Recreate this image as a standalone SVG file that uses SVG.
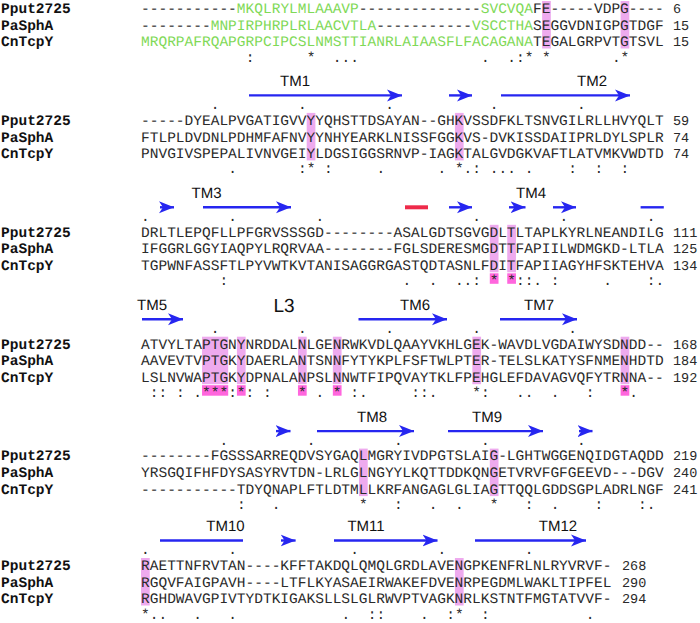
<svg xmlns="http://www.w3.org/2000/svg" width="700" height="623" viewBox="0 0 700 623" xml:space="preserve">
<style>
text{text-rendering:geometricPrecision}
.seq{font-family:"Liberation Mono","Courier New",monospace;font-size:14.53px;fill:#2a2a2a;white-space:pre}
.name{font-family:"Liberation Mono","Courier New",monospace;font-size:14.53px;font-weight:bold;fill:#111}
.num{font-family:"Liberation Mono","Courier New",monospace;font-size:13.5px;fill:#2a2a2a}
.g{fill:#7fd957}
.tm{font-family:"Liberation Sans",Arial,sans-serif;font-size:15px;fill:#111;text-anchor:middle}
.l3{font-family:"Liberation Sans",Arial,sans-serif;font-size:19px;fill:#111;text-anchor:middle}
.hl{fill:#eeaaee}
.sb{fill:#ff66dd}
.arr{stroke:#2626f0;stroke-width:2.4;fill:none}
.red{stroke:#ee2a4a;stroke-width:4;fill:none}
</style>
<defs>
<marker id="ah" markerWidth="16" markerHeight="14" refX="15" refY="7" orient="auto" markerUnits="userSpaceOnUse">
<path d="M0,1 L15,7 L0,13 L4,7 Z" fill="#2626f0"/>
</marker>
</defs>

<!-- Block 1 -->
<g id="block1">
<rect class="hl" x="542.12" y="1" width="8.72" height="47.5"/>
<rect class="hl" x="620.6" y="1" width="8.72" height="47.5"/>
<text class="name" x="1" y="12.8">Pput2725</text>
<text class="name" x="1" y="29.6">PaSphA</text>
<text class="name" x="1" y="46.4">CnTcpY</text>
<text class="seq" x="141" y="12.8">-----------<tspan class="g">MKQLRYLMLAAAVP</tspan>--------------<tspan class="g">SVCVQA</tspan>FE-----VDPG----</text>
<text class="seq" x="141" y="29.6">--------<tspan class="g">MNPIRPHRPLRLAACVTLA</tspan>-----------<tspan class="g">VSCCTHA</tspan>SEGGVDNIGPGTDGF</text>
<text class="seq" x="141" y="46.4"><tspan class="g">MRQRPAFRQAPGRPCIPCSLNMSTTIANRLAIAASFLFACAGANA</tspan>TEGALGRPVTGTSVL</text>
<text class="num" x="673" y="12.8">6</text>
<text class="num" x="673" y="29.6">15</text>
<text class="num" x="673" y="46.4">15</text>
<text class="seq" y="61.5"><tspan x="245.64">:</tspan><tspan x="306.68">*</tspan><tspan x="332.84">...</tspan><tspan x="481.08">.</tspan><tspan x="507.24">.:*</tspan><tspan x="542.12">*</tspan><tspan x="611.88">.*</tspan></text>
</g>

<!-- Block 2 -->
<g id="block2">
<rect class="hl" x="306.68" y="112.9" width="8.72" height="47.5"/>
<rect class="hl" x="454.92" y="112.9" width="8.72" height="47.5"/>
<text class="tm" x="295" y="86.3">TM1</text>
<text class="tm" x="592" y="86.3">TM2</text>
<text class="seq" y="108.9" x="210.76 297.96 385.16 489.8 577">.....</text>
<text class="name" x="1" y="124.7">Pput2725</text>
<text class="name" x="1" y="141.5">PaSphA</text>
<text class="name" x="1" y="158.3">CnTcpY</text>
<text class="seq" x="141" y="124.7">-----DYEALPVGATIGVVYYQHSTTDSAYAN--GHKVSSDFKLTSNVGILRLLHVYQLT</text>
<text class="seq" x="141" y="141.5">FTLPLDVDNLPDHMFAFNVYYNHYEARKLNISSFGGKVS-DVKISSDAIIPRLDYLSPLR</text>
<text class="seq" x="141" y="158.3">PNVGIVSPEPALIVNVGEIYLDGSIGGSRNVP-IAGKTALGVDGKVAFTLATVMKVWDTD</text>
<text class="num" x="673" y="124.7">59</text>
<text class="num" x="673" y="141.5">74</text>
<text class="num" x="673" y="158.3">74</text>
<text class="seq" y="173.4"><tspan x="228.2">.</tspan><tspan x="297.96">:*</tspan><tspan x="324.12">:</tspan><tspan x="376.44">.</tspan><tspan x="437.48">.</tspan><tspan x="454.92">*.:</tspan><tspan x="489.8">...</tspan><tspan x="524.68">.</tspan><tspan x="568.28">:</tspan><tspan x="594.44">:</tspan><tspan x="620.6">:</tspan></text>
</g>

<!-- Block 3 -->
<g id="block3">
<rect class="hl" x="489.8" y="224.8" width="8.72" height="47.5"/>
<rect class="hl" x="507.24" y="224.8" width="8.72" height="47.5"/>
<rect class="sb" x="489.8" y="273.3" width="8.72" height="10.5"/>
<rect class="sb" x="507.24" y="273.3" width="8.72" height="10.5"/>
<text class="tm" x="206.5" y="198.2">TM3</text>
<text class="tm" x="531" y="198.2">TM4</text>
<text class="seq" y="220.8" x="141 228.2 315.4 472.36 559.56 646.76">......</text>
<text class="name" x="1" y="236.6">Pput2725</text>
<text class="name" x="1" y="253.4">PaSphA</text>
<text class="name" x="1" y="270.2">CnTcpY</text>
<text class="seq" x="141" y="236.6">DRLTLEPQFLLPFGRVSSSGD--------ASALGDTSGVGDLTLTAPLKYRLNEANDILG</text>
<text class="seq" x="141" y="253.4">IFGGRLGGYIAQPYLRQRVAA--------FGLSDERESMGDTTFAPIILWDMGKD-LTLA</text>
<text class="seq" x="141" y="270.2">TGPWNFASSFTLPYVWTKVTANISAGGRGASTQDTASNLFDITFAPIIAGYHFSKTEHVA</text>
<text class="num" x="673" y="236.6">111</text>
<text class="num" x="673" y="253.4">125</text>
<text class="num" x="673" y="270.2">134</text>
<text class="seq" y="285.3"><tspan x="219.48">:</tspan><tspan x="402.6">.</tspan><tspan x="428.76">.</tspan><tspan x="454.92">..:</tspan><tspan x="489.8">*</tspan><tspan x="507.24">*::.</tspan><tspan x="550.84">:</tspan><tspan x="603.16">.</tspan><tspan x="646.76">:.</tspan></text>
</g>

<!-- Block 4 -->
<g id="block4">
<rect class="hl" x="202.04" y="336.7" width="26.16" height="47.5"/>
<rect class="hl" x="236.92" y="336.7" width="8.72" height="47.5"/>
<rect class="hl" x="297.96" y="336.7" width="8.72" height="47.5"/>
<rect class="hl" x="332.84" y="336.7" width="8.72" height="47.5"/>
<rect class="hl" x="472.36" y="336.7" width="8.72" height="47.5"/>
<rect class="hl" x="620.6" y="336.7" width="8.72" height="47.5"/>
<rect class="sb" x="202.04" y="385.2" width="26.16" height="10.5"/>
<rect class="sb" x="236.92" y="385.2" width="8.72" height="10.5"/>
<rect class="sb" x="297.96" y="385.2" width="8.72" height="10.5"/>
<rect class="sb" x="332.84" y="385.2" width="8.72" height="10.5"/>
<rect class="sb" x="620.6" y="385.2" width="8.72" height="10.5"/>
<text class="tm" x="152" y="310.1">TM5</text>
<text class="l3" x="284" y="312">L3</text>
<text class="tm" x="415" y="310.1">TM6</text>
<text class="tm" x="539" y="310.1">TM7</text>
<text class="seq" y="332.7" x="210.76 297.96 385.16 472.36 568.28">.....</text>
<text class="name" x="1" y="348.5">Pput2725</text>
<text class="name" x="1" y="365.3">PaSphA</text>
<text class="name" x="1" y="382.1">CnTcpY</text>
<text class="seq" x="141" y="348.5">ATVYLTAPTGNYNRDDALNLGENRWKVDLQAAYVKHLGEK-WAVDLVGDAIWYSDNDD--</text>
<text class="seq" x="141" y="365.3">AAVEVTVPTGKYDAERLANTSNNFYTYKPLFSFTWLPTER-TELSLKATYSFNMENHDTD</text>
<text class="seq" x="141" y="382.1">LSLNVWAPTGKYDPNALANPSLNNWTFIPQVAYTKLFPEHGLEFDAVAGVQFYTRNNA--</text>
<text class="num" x="673" y="348.5">168</text>
<text class="num" x="673" y="365.3">184</text>
<text class="num" x="673" y="382.1">192</text>
<text class="seq" y="397.2"><tspan x="149.72">::</tspan><tspan x="175.88">:</tspan><tspan x="193.32">.***:*:</tspan><tspan x="263.08">:</tspan><tspan x="297.96">*</tspan><tspan x="315.4">.</tspan><tspan x="332.84">*</tspan><tspan x="350.28">:.</tspan><tspan x="411.32">::.</tspan><tspan x="472.36">*:</tspan><tspan x="515.96">..</tspan><tspan x="550.84">.</tspan><tspan x="585.72">:</tspan><tspan x="620.6">*.</tspan></text>
</g>

<!-- Block 5 -->
<g id="block5">
<rect class="hl" x="359" y="448.6" width="8.72" height="47.5"/>
<rect class="hl" x="489.8" y="448.6" width="8.72" height="47.5"/>
<text class="tm" x="372" y="422">TM8</text>
<text class="tm" x="487" y="422">TM9</text>
<text class="seq" y="444.6" x="219.48 306.68 393.88 481.08 577">.....</text>
<text class="name" x="1" y="460.4">Pput2725</text>
<text class="name" x="1" y="477.2">PaSphA</text>
<text class="name" x="1" y="494">CnTcpY</text>
<text class="seq" x="141" y="460.4">--------FGSSSARREQDVSYGAQLMGRYIVDPGTSLAIG-LGHTWGGENQIDGTAQDD</text>
<text class="seq" x="141" y="477.2">YRSGQIFHFDYSASYRVTDN-LRLGLNGYYLKQTTDDKQNGETVRVFGFGEEVD---DGV</text>
<text class="seq" x="141" y="494">-----------TDYQNAPLFTLDTMLLKRFANGAGLGLIAGTTQQLGDDSGPLADRLNGF</text>
<text class="num" x="673" y="460.4">219</text>
<text class="num" x="673" y="477.2">240</text>
<text class="num" x="673" y="494">241</text>
<text class="seq" y="509.1"><tspan x="236.92">:</tspan><tspan x="271.8">.</tspan><tspan x="359">*</tspan><tspan x="393.88">:</tspan><tspan x="428.76">.</tspan><tspan x="454.92">.</tspan><tspan x="489.8">*</tspan><tspan x="524.68">:</tspan><tspan x="550.84">.</tspan><tspan x="594.44">:</tspan><tspan x="638.04">:.</tspan></text>
</g>

<!-- Block 6 -->
<g id="block6">
<rect class="hl" x="141" y="558" width="8.72" height="47.5"/>
<rect class="hl" x="454.92" y="558" width="8.72" height="47.5"/>
<text class="tm" x="225.5" y="531.4">TM10</text>
<text class="tm" x="366" y="531.4">TM11</text>
<text class="tm" x="558" y="531.4">TM12</text>
<text class="seq" y="554" x="141 228.2 350.28 437.48 524.68">.....</text>
<text class="name" x="1" y="569.8">Pput2725</text>
<text class="name" x="1" y="586.6">PaSphA</text>
<text class="name" x="1" y="603.4">CnTcpY</text>
<text class="seq" x="141" y="569.8">RAETTNFRVTAN----KFFTAKDQLQMQLGRDLAVENGPKENFRLNLRYVRVF-</text>
<text class="seq" x="141" y="586.6">RGQVFAIGPAVH----LTFLKYASAEIRWAKEFDVENRPEGDMLWAKLTIPFEL</text>
<text class="seq" x="141" y="603.4">RGHDWAVGPIVTYDTKIGAKSLLSLGLRWVPTVAGKNRLKSTNTFMGTATVVF-</text>
<text class="num" x="622" y="569.8">268</text>
<text class="num" x="622" y="586.6">290</text>
<text class="num" x="622" y="603.4">294</text>
<text class="seq" y="618.5"><tspan x="141">*..</tspan><tspan x="193.32">.</tspan><tspan x="228.2">.</tspan><tspan x="341.56">.</tspan><tspan x="367.72">::</tspan><tspan x="420.04">.</tspan><tspan x="446.2">:*</tspan><tspan x="481.08">:</tspan><tspan x="585.72">.</tspan></text>
</g>

<!-- Secondary structure connectors -->
<g id="connectors">
<line class="arr" x1="249" y1="95.4" x2="402" y2="95.4" marker-end="url(#ah)"/>
<line class="arr" x1="449" y1="95.4" x2="472" y2="95.4" marker-end="url(#ah)"/>
<line class="arr" x1="501" y1="95.4" x2="630" y2="95.4" marker-end="url(#ah)"/>

<line class="arr" x1="160" y1="207.3" x2="174" y2="207.3" marker-end="url(#ah)"/>
<line class="arr" x1="203" y1="207.3" x2="291" y2="207.3" marker-end="url(#ah)"/>
<line class="red" x1="405" y1="207.3" x2="428" y2="207.3"/>
<line class="arr" x1="449" y1="207.3" x2="472" y2="207.3" marker-end="url(#ah)"/>
<line class="arr" x1="509" y1="207.3" x2="525.5" y2="207.3" marker-end="url(#ah)"/>
<line class="arr" x1="553" y1="207.3" x2="576" y2="207.3" marker-end="url(#ah)"/>
<line class="arr" x1="640.6" y1="207.3" x2="663.8" y2="207.3"/>

<line class="arr" x1="142" y1="319.2" x2="183" y2="319.2" marker-end="url(#ah)"/>
<line class="arr" x1="358.5" y1="319.2" x2="447" y2="319.2" marker-end="url(#ah)"/>
<line class="arr" x1="500" y1="319.2" x2="577" y2="319.2" marker-end="url(#ah)"/>

<line class="arr" x1="276" y1="431.1" x2="290.5" y2="431.1" marker-end="url(#ah)"/>
<line class="arr" x1="317" y1="431.1" x2="414" y2="431.1" marker-end="url(#ah)"/>
<line class="arr" x1="448" y1="431.1" x2="543" y2="431.1" marker-end="url(#ah)"/>
<line class="arr" x1="579" y1="431.1" x2="592.5" y2="431.1" marker-end="url(#ah)"/>

<line class="arr" x1="160" y1="540.5" x2="243" y2="540.5"/>
<line class="arr" x1="281" y1="540.5" x2="295.6" y2="540.5" marker-end="url(#ah)"/>
<line class="arr" x1="334" y1="540.5" x2="437.5" y2="540.5" marker-end="url(#ah)"/>
<line class="arr" x1="475" y1="540.5" x2="586" y2="540.5" marker-end="url(#ah)"/>
</g>
</svg>
